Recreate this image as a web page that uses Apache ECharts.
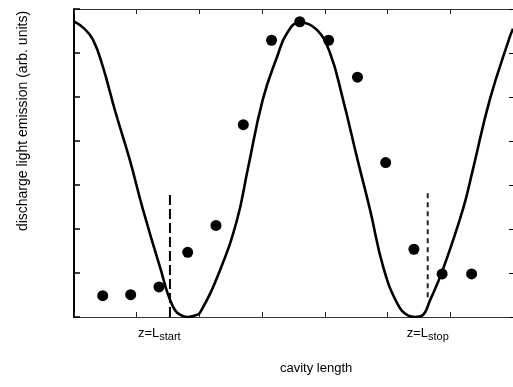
<!DOCTYPE html>
<html><head><meta charset="utf-8">
<script src="https://cdn.jsdelivr.net/npm/echarts@6/dist/echarts.min.js"></script>
<style>html,body{margin:0;padding:0;background:#fff}#c{width:513px;height:387px}</style>
</head><body><div id="c"></div>
<script>
// Theory curve
const curveX = [0, 0.15, 0.30, 0.46, 0.65, 0.89, 1.10, 1.37, 1.58, 1.74, 1.82, 1.92, 2.01, 2.33, 2.60, 2.77, 3.01, 3.24, 3.40, 3.60, 3.87, 4.08, 4.29, 4.51, 4.72, 4.93, 5.15, 5.33, 5.44, 5.55, 5.68, 5.88, 6.20, 6.36, 6.63, 6.95, 7.0];
const curveY = [6.72, 6.57, 6.31, 5.69, 4.71, 3.57, 2.44, 1.14, 0.23, 0.02, 0, 0.03, 0.10, 1.07, 2.21, 3.35, 4.94, 5.92, 6.46, 6.70, 6.53, 6.01, 4.94, 3.64, 2.44, 1.14, 0.32, 0.03, 0, 0.03, 0.39, 1.07, 2.44, 3.35, 4.94, 6.37, 6.55];
// Measured points
const dotX = [0.458, 0.904, 1.355, 1.813, 2.264, 2.70, 3.15, 3.60, 4.06, 4.52, 4.97, 5.42, 5.87, 6.34];
const dotY = [0.485, 0.508, 0.683, 1.47, 2.08, 4.37, 6.29, 6.71, 6.29, 5.45, 3.51, 1.54, 0.98, 0.98];
// Markers
const markerX = [1.53, 5.64];
const markerBottom = [0, 0.45];
const markerTop = [2.82, 2.82];
const markerSub = ['start', 'stop'];
const xTitle = 'cavity length';
const yTitle = 'discharge light emission (arb. units)';

const FONT = "'Liberation Sans', Arial, sans-serif";
const chart = echarts.init(document.getElementById('c'), null, {renderer: 'canvas'});
const zip = (a, b) => a.map((v, i) => [v, b[i]]);
const axisCommon = {
  type: 'value', min: 0, max: 7, interval: 1,
  axisLabel: {show: false}, splitLine: {show: false}
};
chart.setOption({
  animation: false,
  backgroundColor: '#fff',
  grid: {left: 74, top: 9, right: -1, bottom: 70},
  xAxis: [
    Object.assign({}, axisCommon, {position: 'bottom',
      axisLine: {onZero: false, lineStyle: {color: '#333', width: 1}},
      axisTick: {inside: true, length: 5, lineStyle: {color: '#222', width: 1}}}),
    Object.assign({}, axisCommon, {position: 'top',
      axisLine: {onZero: false, lineStyle: {color: '#333', width: 1}},
      axisTick: {inside: true, length: 5, lineStyle: {color: '#222', width: 1}}})
  ],
  yAxis: [
    Object.assign({}, axisCommon, {position: 'left',
      axisLine: {onZero: false, lineStyle: {color: '#000', width: 2}},
      axisTick: {inside: true, length: 6, lineStyle: {color: '#000', width: 1.5}}}),
    Object.assign({}, axisCommon, {position: 'right',
      axisLine: {onZero: false, lineStyle: {color: '#000', width: 1}},
      axisTick: {inside: true, length: 4, lineStyle: {color: '#000', width: 1}}})
  ],
  series: [
    {type: 'line', data: zip(curveX, curveY), showSymbol: false, smooth: 0.45,
     lineStyle: {color: '#000', width: 2.6}, z: 3},
    {type: 'scatter', data: zip(dotX, dotY), symbolSize: 11,
     itemStyle: {color: '#000', opacity: 1}, z: 4},
    {type: 'line', data: [[markerX[0], markerBottom[0]], [markerX[0], markerTop[0]]],
     showSymbol: false, lineStyle: {color: '#000', width: 2, type: [10, 4]}},
    {type: 'line', data: [[markerX[1], markerBottom[1]], [markerX[1], markerTop[1]]],
     showSymbol: false, lineStyle: {color: '#222', width: 2, type: [5, 4]}}
  ]
});
const graphics = [];
markerX.forEach((mx, i) => {
  const px = chart.convertToPixel({xAxisIndex: 0}, mx);
  graphics.push({type: 'text', left: px - 32 + (i === 1 ? 11 : 0), top: 327,
    style: {rich: {a: {fontFamily: FONT, fontSize: 13, fill: '#000'}, b: {fontFamily: FONT, fontSize: 11, fill: '#000', padding: [7, 0, 0, 0]}},
      text: '{a|z=L}{b|' + markerSub[i] + '}'}});
});
graphics.push({type: 'text', left: 280, top: 362,
  style: {text: xTitle, fontFamily: FONT, fontSize: 13, fill: '#000'}});
graphics.push({type: 'text', x: 23, y: 121, rotation: Math.PI / 2,
  style: {text: yTitle, fontFamily: FONT, fontSize: 14, fill: '#000', align: 'center', verticalAlign: 'middle'}});
chart.setOption({graphic: graphics});
</script></body></html>
